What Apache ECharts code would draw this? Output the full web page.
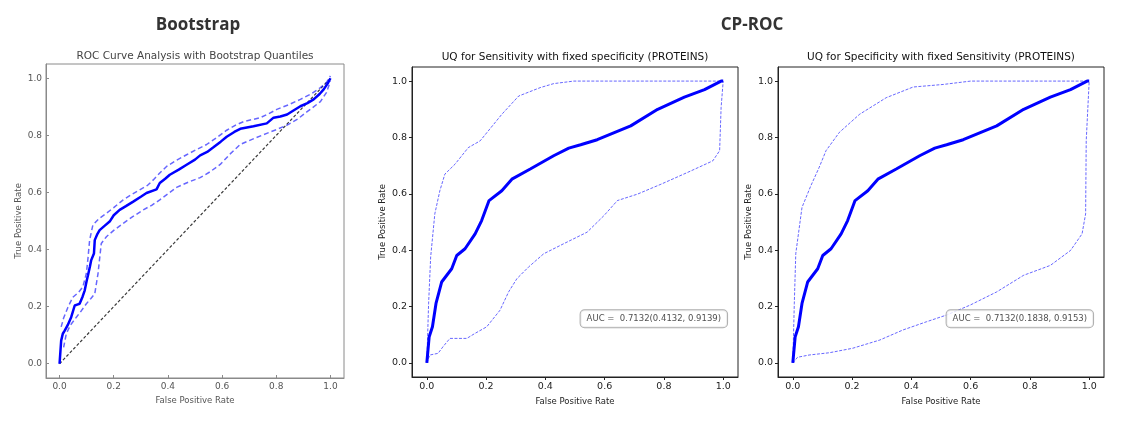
<!DOCTYPE html>
<html lang="en">
<head>
<meta charset="UTF-8">
<title>ROC curves</title>
<script src="https://cdn.jsdelivr.net/npm/echarts@6/dist/echarts.min.js"></script>
<style>
    html, body { margin: 0; padding: 0; background: #fff; }
    #main { width: 1136px; height: 426px; }
</style>
</head>
<body>
<div id="main"></div>
<script>
    // tick positions shared by every axis
    var tickValues = [0, 0.2, 0.4, 0.6, 0.8, 1.0];

    // Bootstrap panel: mean ROC + quantile bands + chance line
    var bootMain = [[0,0],[0.006,0.081],[0.012,0.105],[0.019,0.116],[0.03,0.135],[0.043,0.163],[0.056,0.204],
        [0.065,0.207],[0.074,0.210],[0.085,0.235],[0.093,0.257],[0.1,0.29],[0.105,0.310],[0.112,0.34],
        [0.117,0.363],[0.127,0.386],[0.13,0.433],[0.14,0.455],[0.148,0.468],[0.165,0.482],[0.185,0.498],
        [0.2,0.52],[0.222,0.539],[0.245,0.552],[0.272,0.568],[0.3,0.585],[0.321,0.598],[0.358,0.611],
        [0.370,0.633],[0.39,0.648],[0.407,0.662],[0.44,0.68],[0.469,0.697],[0.5,0.715],[0.519,0.73],
        [0.545,0.742],[0.568,0.758],[0.595,0.778],[0.617,0.795],[0.645,0.812],[0.667,0.823],[0.716,0.832],
        [0.765,0.842],[0.790,0.862],[0.815,0.866],[0.840,0.873],[0.865,0.888],[0.889,0.902],[0.915,0.913],
        [0.938,0.926],[0.96,0.945],[0.975,0.961],[0.99,0.982],[1,1]];
    var bootUpper = [[0.006,0.129],[0.015,0.16],[0.031,0.198],[0.049,0.233],[0.07,0.25],[0.086,0.269],
        [0.099,0.316],[0.105,0.37],[0.111,0.433],[0.123,0.486],[0.145,0.508],[0.173,0.527],[0.2,0.547],
        [0.235,0.574],[0.265,0.592],[0.296,0.609],[0.325,0.625],[0.346,0.644],[0.37,0.668],[0.395,0.691],
        [0.43,0.712],[0.469,0.732],[0.505,0.75],[0.543,0.768],[0.58,0.792],[0.617,0.818],[0.65,0.836],
        [0.679,0.848],[0.741,0.862],[0.77,0.875],[0.802,0.891],[0.845,0.907],[0.889,0.926],[0.93,0.946],
        [0.963,0.967],[0.985,0.985],[1,1.008]];
    var bootLower = [[0.015,0.057],[0.025,0.105],[0.04,0.135],[0.062,0.163],[0.08,0.185],[0.099,0.210],
        [0.115,0.228],[0.130,0.245],[0.142,0.316],[0.154,0.421],[0.173,0.445],[0.2,0.467],[0.235,0.492],
        [0.27,0.515],[0.309,0.539],[0.34,0.555],[0.370,0.574],[0.4,0.595],[0.432,0.618],[0.475,0.636],
        [0.519,0.652],[0.555,0.672],[0.593,0.698],[0.63,0.735],[0.667,0.768],[0.72,0.79],[0.765,0.807],
        [0.80,0.82],[0.840,0.836],[0.88,0.858],[0.914,0.883],[0.963,0.918],[0.985,0.95],[1,0.990]];
    var chanceLine = [[0,0],[1,1]];

    // CP-ROC panels: same ROC, different uncertainty bands
    var cpMain = [[0,0],[0.008,0.093],[0.019,0.128],[0.031,0.211],[0.05,0.287],[0.084,0.334],[0.101,0.381],
        [0.129,0.405],[0.163,0.458],[0.185,0.505],[0.21,0.576],[0.253,0.611],[0.287,0.652],[0.349,0.688],
        [0.428,0.735],[0.479,0.762],[0.519,0.774],[0.575,0.792],[0.688,0.841],[0.779,0.9],[0.869,0.943],
        [0.937,0.97],[0.993,1],[1,1]];
    var sensUpper = [[0,0],[0.006,0.21],[0.013,0.376],[0.027,0.529],[0.044,0.611],[0.061,0.670],[0.095,0.705],
        [0.140,0.764],[0.180,0.788],[0.253,0.882],[0.31,0.947],[0.383,0.977],[0.428,0.991],[0.496,1],[1,1]];
    var sensLower = [[0,0],[0.010,0.028],[0.038,0.034],[0.055,0.058],[0.078,0.087],[0.135,0.087],[0.163,0.105],
        [0.202,0.128],[0.247,0.187],[0.276,0.252],[0.304,0.299],[0.343,0.34],[0.394,0.387],[0.462,0.423],
        [0.541,0.464],[0.598,0.523],[0.643,0.576],[0.711,0.599],[0.79,0.634],[0.88,0.676],[0.965,0.717],
        [0.988,0.753],[0.993,0.906],[1,1]];
    var specUpper = [[0,0],[0.005,0.211],[0.010,0.388],[0.031,0.552],[0.061,0.629],[0.089,0.694],[0.112,0.753],
        [0.157,0.818],[0.225,0.882],[0.315,0.941],[0.406,0.979],[0.507,0.988],[0.6,1],[1,1]];
    var specLower = [[0,0],[0.016,0.02],[0.055,0.028],[0.123,0.036],[0.202,0.052],[0.293,0.081],[0.372,0.117],
        [0.451,0.146],[0.519,0.17],[0.598,0.205],[0.688,0.252],[0.779,0.311],[0.869,0.346],[0.937,0.399],
        [0.976,0.458],[0.988,0.529],[0.99,0.788],[1,1]];

    var panelTitles = ['ROC Curve Analysis with Bootstrap Quantiles',
        'UQ for Sensitivity with fixed specificity (PROTEINS)',
        'UQ for Specificity with fixed Sensitivity (PROTEINS)'];
    var aucTexts = ['AUC =  0.7132(0.4132, 0.9139)', 'AUC =  0.7132(0.1838, 0.9153)'];
    var aucAnchor = [[0.766, 0.157]];

    var FONT = 'DejaVu Sans';
    var BLUE = '#0000ff';

    var grids = [
        {left: 46, top: 64, width: 298, height: 314},
        {left: 412, top: 67, width: 326, height: 310},
        {left: 778, top: 67, width: 326, height: 310}
    ];
    // left panel is the greyish "classic" style, the other two black
    var looks = [
        {line: '#8a8a8a', text: '#555', inside: true, xGap: 9, yGap: 19, size: 9, margin: 4},
        {line: '#222', text: '#222', inside: false, xGap: 16, yGap: 25, size: 9.5, margin: 5},
        {line: '#222', text: '#222', inside: false, xGap: 16, yGap: 25, size: 9.5, margin: 5}
    ];

    function makeAxis(dim, i) {
        var lk = looks[i];
        return {
            type: 'value', gridIndex: i, min: -0.05, max: 1.05,
            name: dim == 'x' ? 'False Positive Rate' : 'True Positive Rate',
            nameLocation: 'middle',
            nameGap: dim == 'x' ? lk.xGap : lk.yGap,
            nameTextStyle: {fontFamily: FONT, fontSize: 8.5, color: lk.text},
            axisLine: {show: true, onZero: false, lineStyle: {color: lk.line, width: 1}},
            splitLine: {show: false},
            axisTick: {show: true, inside: lk.inside, length: 3, customValues: tickValues,
                lineStyle: {color: lk.line}},
            axisLabel: {customValues: tickValues, margin: lk.margin, fontFamily: FONT, fontSize: lk.size,
                color: lk.text, formatter: function(v) { return v.toFixed(1); }}
        };
    }

    function lineSeries(i, data, style, z) {
        return {
            type: 'line', xAxisIndex: i, yAxisIndex: i, data: data,
            showSymbol: false, smooth: false, silent: true, z: z || 2,
            lineStyle: style
        };
    }

    var thinDash = {color: 'rgba(0,0,255,0.75)', width: 0.8, type: [3, 1.5]};
    var mainStyle = {color: BLUE, width: 3};

    var series = [
        lineSeries(0, chanceLine, {color: '#3a3a3a', width: 1.2, type: [3, 2]}),
        lineSeries(0, bootUpper, {color: 'rgba(0,0,255,0.6)', width: 1.5, type: [5, 3]}),
        lineSeries(0, bootLower, {color: 'rgba(0,0,255,0.6)', width: 1.5, type: [5, 3]}),
        lineSeries(0, bootMain, {color: BLUE, width: 2.5}, 3),
        lineSeries(1, sensUpper, thinDash),
        lineSeries(1, sensLower, thinDash),
        lineSeries(1, cpMain, mainStyle, 3),
        lineSeries(2, specUpper, thinDash),
        lineSeries(2, specLower, thinDash),
        lineSeries(2, cpMain, mainStyle, 3)
    ];

    // AUC boxes, anchored in data coordinates
    aucTexts.forEach(function(t, k) {
        series.push({
            type: 'scatter', xAxisIndex: k + 1, yAxisIndex: k + 1, data: aucAnchor,
            symbol: 'rect', symbolSize: 1, itemStyle: {color: 'rgba(0,0,0,0)'}, z: 10, silent: true,
            label: {
                show: true, position: 'inside', formatter: t,
                fontFamily: FONT, fontSize: 8.5, color: '#222',
                backgroundColor: '#fff', borderColor: '#999', borderWidth: 1, borderRadius: 4,
                padding: [4, 6]
            }
        });
    });

    var graphics = [
        {type: 'text', x: 198, y: 25, style: {text: 'Bootstrap', align: 'center', verticalAlign: 'middle',
            fontFamily: 'Open Sans', fontWeight: 'bold', fontSize: 17, fill: '#333'}},
        {type: 'text', x: 752, y: 25, style: {text: 'CP-ROC', align: 'center', verticalAlign: 'middle',
            fontFamily: 'Open Sans', fontWeight: 'bold', fontSize: 17, fill: '#333'}}
    ];
    panelTitles.forEach(function(t, i) {
        graphics.push({type: 'text', x: grids[i].left + grids[i].width / 2, y: i == 0 ? 56 : 57,
            style: {text: t, align: 'center', verticalAlign: 'middle', fontFamily: FONT, fontSize: 10.5,
                fill: i == 0 ? '#444' : '#111'}});
    });

    var option = {
        animation: false,
        backgroundColor: '#fff',
        grid: grids.map(function(g, i) {
            return {left: g.left, top: g.top, width: g.width, height: g.height, show: true,
                borderColor: looks[i].line, borderWidth: 1, backgroundColor: 'transparent'};
        }),
        xAxis: [0, 1, 2].map(function(i) { return makeAxis('x', i); }),
        yAxis: [0, 1, 2].map(function(i) { return makeAxis('y', i); }),
        graphic: graphics,
        series: series
    };

    var myChart = echarts.init(document.getElementById('main'));
    myChart.setOption(option);
</script>
</body>
</html>
